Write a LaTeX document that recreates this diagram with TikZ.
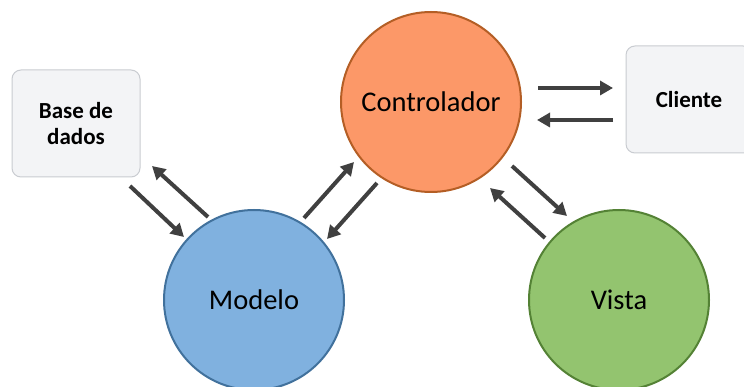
\documentclass[tikz,border=0pt]{standalone}
\usepackage{fontspec}
\setmainfont{Carlito}
\usetikzlibrary{arrows.meta}
\definecolor{ctrlfill}{HTML}{FC9868}
\definecolor{ctrldraw}{HTML}{B45E25}
\definecolor{modfill}{HTML}{80B1DF}
\definecolor{moddraw}{HTML}{41719C}
\definecolor{visfill}{HTML}{93C46F}
\definecolor{visdraw}{HTML}{548235}
\definecolor{boxfill}{HTML}{F3F4F6}
\definecolor{boxdraw}{HTML}{C9CCD1}
\definecolor{arr}{HTML}{404040}
\tikzset{
  mvc/.style={circle, minimum size=180pt, inner sep=0pt, line width=2pt, font=\fontsize{28.5}{32}\selectfont},
  extbox/.style={rectangle, rounded corners=9pt, fill=boxfill, draw=boxdraw, line width=1pt, inner sep=0pt, align=center, font=\fontsize{23}{26}\selectfont\bfseries},
  link/.style={draw=arr, line width=4pt, -{Triangle[length=13pt,width=14pt]}, shorten <=0pt}
}
\begin{document}
\begin{tikzpicture}[x=1pt,y=-1pt]
\clip (0,0) rectangle (744,387);
\fill[white] (0,0) rectangle (744,387);
\node[mvc, fill=ctrlfill, draw=ctrldraw] (ctrl) at (431,102) {Controlador};
\node[mvc, fill=modfill, draw=moddraw] (modelo) at (254,300) {Modelo};
\node[mvc, fill=visfill, draw=visdraw] (vista) at (619,300) {Vista};
\node[extbox, minimum width=128pt, minimum height=107pt] (base) at (76,123.5) {Base de\\dados};
\node[extbox, minimum width=126pt, minimum height=107pt] (cliente) at (689,99.5) {Cliente};
% arrow end coordinates
\coordinate (c1a) at (538,88);  \coordinate (c1b) at (613,88);
\coordinate (c2a) at (613,120); \coordinate (c2b) at (537,120);
\coordinate (b1a) at (130,186); \coordinate (b1b) at (184,237);
\coordinate (b2a) at (208,217); \coordinate (b2b) at (152,166);
\coordinate (m1a) at (304,218); \coordinate (m1b) at (354,162);
\coordinate (m2a) at (377,183); \coordinate (m2b) at (327,239);
\coordinate (v1a) at (512,166); \coordinate (v1b) at (567,216);
\coordinate (v2a) at (545,238); \coordinate (v2b) at (490,188);
\draw[link] (c1a) -- (c1b);
\draw[link] (c2a) -- (c2b);
\draw[link] (b1a) -- (b1b);
\draw[link] (b2a) -- (b2b);
\draw[link] (m1a) -- (m1b);
\draw[link] (m2a) -- (m2b);
\draw[link] (v1a) -- (v1b);
\draw[link] (v2a) -- (v2b);
\end{tikzpicture}
\end{document}
